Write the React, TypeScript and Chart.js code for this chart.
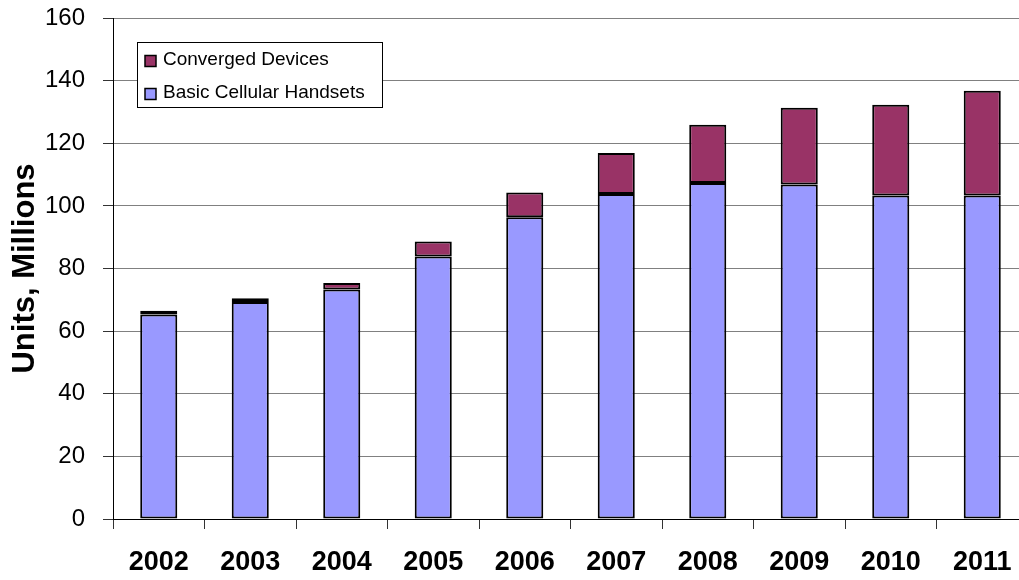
import React, { useEffect, useRef } from "react";
import { Chart, registerables } from "chart.js";

Chart.register(...registerables);

const years = ["2002", "2003", "2004", "2005", "2006", "2007", "2008", "2009", "2010", "2011"];
const basicHandsets = [65.3, 69.3, 73.3, 83.8, 96.4, 103.8, 107.3, 106.8, 103.3, 103.3];
const convergedDevices = [1.2, 1.2, 2.1, 4.8, 7.9, 13.1, 18.6, 24.5, 29.0, 33.5];
const yTicks = [0, 20, 40, 60, 80, 100, 120, 140, 160];

const FONT = "'Liberation Sans', Arial, Helvetica, sans-serif";

const boxedLegend = {
  id: "boxedLegend",
  afterDraw(chart: any) {
    const ctx = chart.ctx;
    const area = chart.chartArea;
    const x0 = area.left + 24;
    const y0 = area.top + 24;
    const w = 245;
    const h = 65;
    ctx.save();
    ctx.fillStyle = "#ffffff";
    ctx.fillRect(x0, y0, w, h);
    ctx.strokeStyle = "#000000";
    ctx.lineWidth = 1;
    ctx.strokeRect(x0 + 0.5, y0 + 0.5, w, h);
    const items = chart.data.datasets.slice().reverse();
    ctx.font = `19px ${FONT}`;
    ctx.textBaseline = "middle";
    items.forEach((ds: any, i: number) => {
      const cy = y0 + 17.5 + i * 33;
      ctx.fillStyle = ds.backgroundColor;
      ctx.fillRect(x0 + 8, cy - 4, 11, 11);
      ctx.strokeStyle = "#000";
      ctx.lineWidth = 1.5;
      ctx.strokeRect(x0 + 8, cy - 4, 11, 11);
      ctx.fillStyle = "#000";
      ctx.fillText(ds.label, x0 + 26, cy);
    });
    ctx.restore();
  },
};

export default function App() {
  const ref = useRef<HTMLCanvasElement | null>(null);
  useEffect(() => {
    if (!ref.current) return;
    const chart = new Chart(ref.current, {
      type: "bar",
      data: {
        labels: years,
        datasets: [
          {
            label: "Basic Cellular Handsets",
            data: basicHandsets,
            backgroundColor: "#9999FF",
            borderColor: "#000000",
            borderWidth: 2,
            borderSkipped: false,
            barPercentage: 0.405,
            categoryPercentage: 1,
          },
          {
            label: "Converged Devices",
            data: convergedDevices,
            backgroundColor: "#993366",
            borderColor: "#000000",
            borderWidth: 2,
            borderSkipped: false,
            barPercentage: 0.405,
            categoryPercentage: 1,
          },
        ],
      },
      options: {
        responsive: false,
        maintainAspectRatio: false,
        devicePixelRatio: 1,
        animation: false,
        layout: { padding: { left: 0, top: 18, right: 12, bottom: 0 } },
        plugins: {
          legend: { display: false },
          tooltip: { enabled: false },
        },
        scales: {
          x: {
            stacked: true,
            offset: true,
            afterFit: (s: any) => {
              s.height = 61;
            },
            grid: {
              offset: true,
              drawOnChartArea: false,
              drawTicks: true,
              tickLength: 10,
              color: "#333333",
              tickColor: "#333333",
            },
            border: { display: true, color: "#000000", width: 1 },
            ticks: {
              color: "#000000",
              font: { family: FONT, size: 27, weight: "bold" },
              padding: 17,
              maxRotation: 0,
              autoSkip: false,
            },
          },
          y: {
            stacked: true,
            min: 0,
            max: 160,
            afterFit: (s: any) => {
              s.width = 113;
              s.paddingTop = 0;
              s.paddingBottom = 0;
            },
            afterBuildTicks: (s: any) => {
              s.ticks = yTicks.map((v) => ({ value: v }));
            },
            grid: {
              color: "#808080",
              lineWidth: 1,
              tickLength: 10,
              tickColor: "#333333",
            },
            border: { display: true, color: "#000000", width: 1 },
            ticks: {
              color: "#000000",
              font: { family: FONT, size: 24 },
              padding: 18,
            },
            title: {
              display: true,
              text: "Units, Millions",
              color: "#000000",
              font: { family: FONT, size: 31, weight: "bold" },
              padding: { top: 7, bottom: 0 },
            },
          },
        },
      },
      plugins: [boxedLegend],
    });
    return () => chart.destroy();
  }, []);
  return (
    <div
      style={{
        position: "fixed",
        left: 0,
        top: 0,
        width: 1019,
        height: 580,
        overflow: "hidden",
        background: "#ffffff",
      }}
    >
      <canvas ref={ref} width={1040} height={580} style={{ display: "block" }} />
    </div>
  );
}
